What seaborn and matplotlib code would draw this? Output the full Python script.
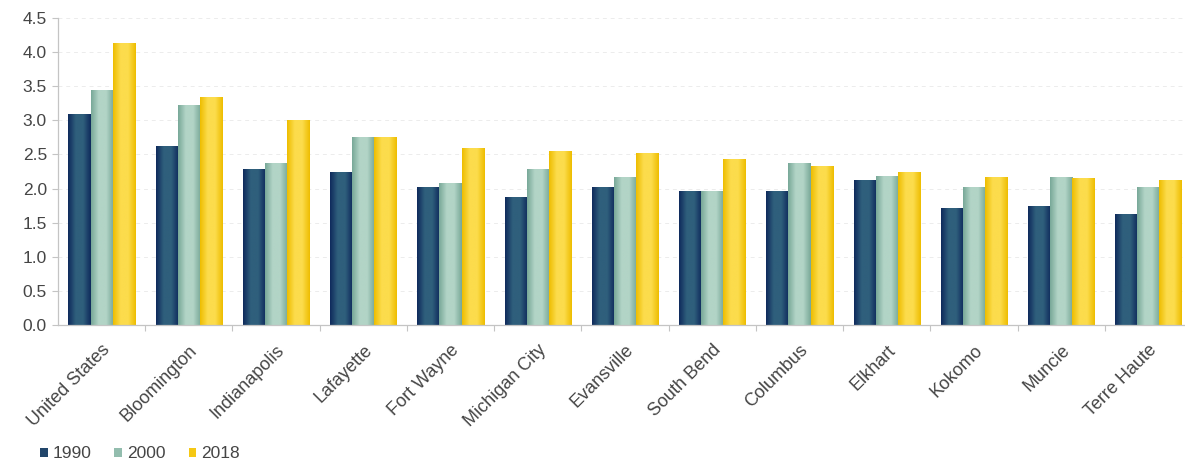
import matplotlib
matplotlib.use("Agg")
import matplotlib.pyplot as plt
from matplotlib.ticker import MultipleLocator, FixedLocator, FormatStrFormatter
from matplotlib.patches import Patch
from matplotlib.colors import LinearSegmentedColormap, to_rgba
import numpy as np
import seaborn as sns
import pandas as pd

# Values by area and year
areas = ["United States", "Bloomington", "Indianapolis", "Lafayette", "Fort Wayne",
         "Michigan City", "Evansville", "South Bend", "Columbus", "Elkhart",
         "Kokomo", "Muncie", "Terre Haute"]
years = ["1990", "2000", "2018"]
v1990 = [3.10, 2.62, 2.29, 2.25, 2.03, 1.88, 2.03, 1.96, 1.97, 2.13, 1.72, 1.74, 1.62]
v2000 = [3.45, 3.22, 2.38, 2.75, 2.08, 2.28, 2.17, 1.96, 2.37, 2.18, 2.03, 2.17, 2.03]
v2018 = [4.13, 3.34, 3.00, 2.75, 2.60, 2.55, 2.52, 2.44, 2.33, 2.24, 2.17, 2.16, 2.13]
colors = ["#22466b", "#93bdae", "#f5c814"]
# edge / centre shades for the cylinder-style shading of each series
shades = {
    "#22466b": ("#0f2a5c", "#2f5f7c"),
    "#93bdae": ("#78a898", "#b2d4c6"),
    "#f5c814": ("#eebd00", "#fcdc4c"),
}

df = pd.DataFrame({
    "area": areas * 3,
    "year": [y for y in years for _ in areas],
    "value": v1990 + v2000 + v2018,
})

sns.set_style("white")
plt.rcParams["font.family"] = ["Liberation Sans", "DejaVu Sans"]
text_color = "#454545"

fig = plt.figure(figsize=(11.85, 4.67), dpi=100)
ax = fig.add_axes([58 / 1185, 142 / 467, (1192 - 58) / 1185, 307 / 467])

sns.barplot(data=df, x="area", y="value", hue="year", palette=colors,
            width=0.76, saturation=1, gap=0, ax=ax, legend=False,
            edgecolor="none", linewidth=0)

ax.set_xlim(-0.5, 12.5)
ax.set_ylim(0, 4.5)

# horizontal shading across every bar, clipped to the bar rectangle
for patch in list(ax.patches):
    fc = matplotlib.colors.to_hex(patch.get_facecolor())
    if fc not in shades:
        continue
    edge, centre = shades[fc]
    cmap = LinearSegmentedColormap.from_list(
        "shade", [edge, centre, centre, edge], N=256)
    x0, y0 = patch.get_x(), patch.get_y()
    w, h = patch.get_width(), patch.get_height()
    grad = np.linspace(0, 1, 64).reshape(1, -1)
    im = ax.imshow(grad, cmap=cmap, aspect="auto", interpolation="bilinear",
                   extent=(x0, x0 + w, y0, y0 + h), zorder=patch.get_zorder() + 0.1)
    im.set_clip_path(patch)

ax.set_xlim(-0.5, 12.5)
ax.set_ylim(0, 4.5)
ax.yaxis.set_major_locator(MultipleLocator(0.5))
ax.yaxis.set_major_formatter(FormatStrFormatter("%.1f"))
ax.grid(axis="y", color="#ececec", linestyle=(0, (4, 4)), linewidth=0.7)
ax.set_axisbelow(True)

ax.set_xlabel("")
ax.set_ylabel("")
for side in ["top", "right"]:
    ax.spines[side].set_visible(False)
for side in ["left", "bottom"]:
    ax.spines[side].set_color("#c4c4c4")
    ax.spines[side].set_linewidth(0.9)

ax.tick_params(axis="y", length=4, width=0.8, color="#c4c4c4", left=True,
               labelsize=12.5, labelcolor=text_color, pad=4)
ax.tick_params(axis="x", which="major", length=0, labelsize=13,
               labelcolor=text_color, pad=12)
ax.xaxis.set_minor_locator(FixedLocator([i + 0.5 for i in range(len(areas))]))
ax.tick_params(axis="x", which="minor", length=4, width=0.8, color="#c4c4c4",
               bottom=True)
for lbl in ax.get_xticklabels():
    lbl.set_rotation(45)
    lbl.set_ha("right")
    lbl.set_va("top")
    lbl.set_rotation_mode("anchor")

handles = [Patch(facecolor=c, edgecolor="none", label=y) for c, y in zip(colors, years)]
fig.legend(handles=handles, loc="center left", bbox_to_anchor=(40 / 1185, 1 - 454 / 467),
           ncol=3, frameon=False, fontsize=12.5, handlelength=0.45, handleheight=0.45,
           handletextpad=0.3, columnspacing=1.3, labelcolor=text_color,
           borderaxespad=0, borderpad=0)

fig.savefig("out.png", dpi=100)
